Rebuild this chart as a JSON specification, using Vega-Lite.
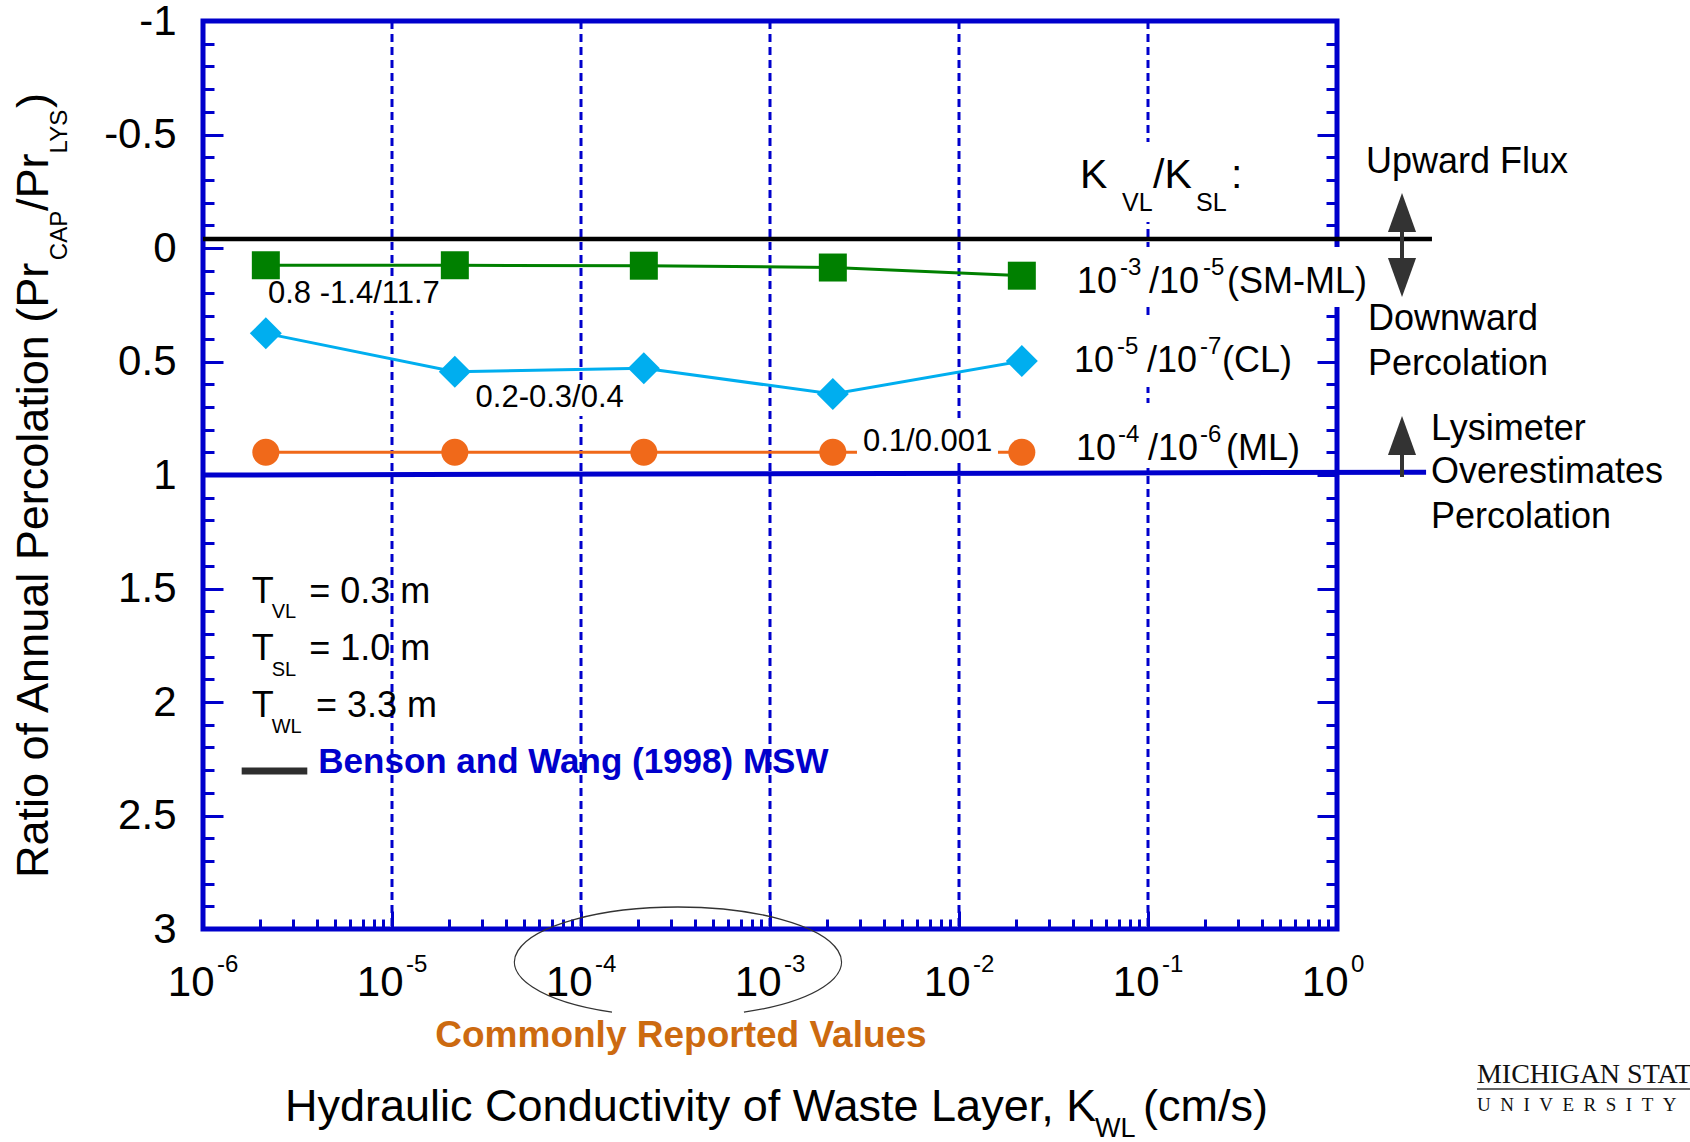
{
  "$schema": "https://vega.github.io/schema/vega-lite/v6.json",
  "width": 1134,
  "height": 908,
  "autosize": {"type": "none"},
  "padding": {"left": 203, "top": 21, "right": 353, "bottom": 213},
  "background": "white",
  "config": {"view": {"stroke": "#0000CC", "strokeWidth": 5}},
  "datasets": {
    "series": [
      {"x": 2.15e-6, "y": 0.076, "series": "SM-ML"},
      {"x": 2.15e-5, "y": 0.076, "series": "SM-ML"},
      {"x": 2.15e-4, "y": 0.078, "series": "SM-ML"},
      {"x": 2.15e-3, "y": 0.086, "series": "SM-ML"},
      {"x": 2.15e-2, "y": 0.122, "series": "SM-ML"},
      {"x": 2.15e-6, "y": 0.376, "series": "CL"},
      {"x": 2.15e-5, "y": 0.545, "series": "CL"},
      {"x": 2.15e-4, "y": 0.530, "series": "CL"},
      {"x": 2.15e-3, "y": 0.643, "series": "CL"},
      {"x": 2.15e-2, "y": 0.498, "series": "CL"},
      {"x": 2.15e-6, "y": 0.9, "series": "ML"},
      {"x": 2.15e-5, "y": 0.9, "series": "ML"},
      {"x": 2.15e-4, "y": 0.9, "series": "ML"},
      {"x": 2.15e-3, "y": 0.9, "series": "ML"},
      {"x": 2.15e-2, "y": 0.9, "series": "ML"}
    ],
    "grid": [
      {"x": 1e-5, "y": -1, "y2": 3},
      {"x": 1e-4, "y": -1, "y2": 3},
      {"x": 1e-3, "y": -1, "y2": 3},
      {"x": 1e-2, "y": -1, "y2": 3},
      {"x": 1e-1, "y": -1, "y2": 3}
    ],
    "refBlack": [{"x": 1e-6, "x2": 3.18, "y": -0.04}],
    "refBlue": [{"x": 1e-6, "x2": 2.96, "y": 1.0, "y2": 0.988}],
    "bg": [
      {"x": 2.886e-3, "x2": 0.01608, "y": 0.7489, "y2": 0.9471},
      {"x": 2.651e-5, "x2": 1.817e-4, "y": 0.5947, "y2": 0.7401},
      {"x": 2.102e-6, "x2": 2.027e-5, "y": 0.1366, "y2": 0.2775},
      {"x": 0.0411, "x2": 0.326, "y": -0.467, "y2": -0.1145},
      {"x": 0.03867, "x2": 1.532, "y": -0.0044, "y2": 0.26},
      {"x": 0.03773, "x2": 0.637, "y": 0.304, "y2": 0.6123},
      {"x": 0.03773, "x2": 0.6773, "y": 0.6828, "y2": 0.9692}
    ],
    "t36": [
      {"x": 1.4236, "y": -0.3304, "label": "Upward Flux"},
      {"x": 1.459, "y": 0.3612, "label": "Downward"},
      {"x": 1.459, "y": 0.5595, "label": "Percolation"},
      {"x": 3.144, "y": 0.8458, "label": "Lysimeter"},
      {"x": 3.144, "y": 1.0352, "label": "Overestimates"},
      {"x": 3.144, "y": 1.2335, "label": "Percolation"},
      {"x": 0.0421, "y": 0.1982, "label": "10"},
      {"x": 0.1012, "y": 0.1982, "label": "/10"},
      {"x": 0.2618, "y": 0.1982, "label": "(SM-ML)"},
      {"x": 0.04061, "y": 0.5463, "label": "10"},
      {"x": 0.09879, "y": 0.5463, "label": "/10"},
      {"x": 0.2462, "y": 0.5463, "label": "(CL)"},
      {"x": 0.04159, "y": 0.9339, "label": "10"},
      {"x": 0.1, "y": 0.9339, "label": "/10"},
      {"x": 0.2586, "y": 0.9339, "label": "(ML)"},
      {"x": 1.81e-6, "y": 1.5626, "label": "T"},
      {"x": 3.65e-6, "y": 1.5626, "label": "= 0.3 m"},
      {"x": 1.81e-6, "y": 1.815, "label": "T"},
      {"x": 3.65e-6, "y": 1.815, "label": "= 1.0 m"},
      {"x": 1.81e-6, "y": 2.0648, "label": "T"},
      {"x": 3.962e-6, "y": 2.0648, "label": "= 3.3 m"}
    ],
    "sup": [
      {"x": 0.0711, "y": 0.1189, "label": "-3"},
      {"x": 0.1954, "y": 0.1189, "label": "-5"},
      {"x": 0.06855, "y": 0.467, "label": "-5"},
      {"x": 0.1884, "y": 0.467, "label": "-7"},
      {"x": 0.0694, "y": 0.8546, "label": "-4"},
      {"x": 0.1884, "y": 0.8546, "label": "-6"}
    ],
    "xexp": [
      {"x": 1e-6, "y": 3.1894, "label": "-6"},
      {"x": 1e-5, "y": 3.1894, "label": "-5"},
      {"x": 1e-4, "y": 3.1894, "label": "-4"},
      {"x": 1e-3, "y": 3.1894, "label": "-3"},
      {"x": 1e-2, "y": 3.1894, "label": "-2"},
      {"x": 1e-1, "y": 3.1894, "label": "-1"},
      {"x": 1, "y": 3.1894, "label": "0"}
    ],
    "t41": [
      {"x": 0.04368, "y": -0.2643, "label": "K"},
      {"x": 0.1063, "y": -0.2643, "label": "/K"},
      {"x": 0.2749, "y": -0.2643, "label": ":"}
    ],
    "sub25": [
      {"x": 0.07285, "y": -0.163, "label": "VL"},
      {"x": 0.1795, "y": -0.163, "label": "SL"}
    ],
    "sub20": [
      {"x": 2.309e-6, "y": 1.6313, "label": "VL"},
      {"x": 2.309e-6, "y": 1.884, "label": "SL"},
      {"x": 2.309e-6, "y": 2.1379, "label": "WL"}
    ],
    "t31": [
      {"x": 2.208e-6, "y": 0.2423, "label": "0.8 -1.4/11.7"},
      {"x": 2.769e-5, "y": 0.7004, "label": "0.2-0.3/0.4"},
      {"x": 3.105e-3, "y": 0.893, "label": "0.1/0.001"}
    ],
    "xtitle": [
      {"x": 2.716e-6, "y": 3.846, "label": "Hydraulic Conductivity of Waste Layer, K"},
      {"x": 0.09408, "y": 3.846, "label": "(cm/s)"}
    ],
    "xtitleSub": [{"x": 0.05244, "y": 3.9163, "label": "WL"}],
    "ytitle": [
      {"x": 1.513e-7, "y": 2.7753, "label": "Ratio of Annual Percolation (Pr"},
      {"x": 1.513e-7, "y": -0.1634, "label": "/Pr"},
      {"x": 1.513e-7, "y": -0.6167, "label": ")"}
    ],
    "ytitleSub": [
      {"x": 1.907e-7, "y": 0.0537, "label": "CAP"},
      {"x": 1.907e-7, "y": -0.4167, "label": "LYS"}
    ],
    "benson": [{"x": 4.074e-6, "y": 2.314, "label": "Benson and Wang (1998) MSW"}],
    "bensonLine": [{"x": 1.602e-6, "x2": 3.563e-6, "y": 2.304}],
    "common": [{"x": 3.38e-4, "y": 3.5198, "label": "Commonly Reported Values"}],
    "ellipse": [{"x": 3.281e-4, "y": 3.1454}],
    "shafts": [
      {"x": 2.208, "y": -0.1454, "y2": 0.141},
      {"x": 2.208, "y": 0.8458, "y2": 1.0088}
    ],
    "headsUp": [
      {"x": 2.208, "y": -0.1564},
      {"x": 2.208, "y": 0.826}
    ],
    "headsDown": [{"x": 2.208, "y": 0.13}],
    "logo1": [{"x": 5.503, "y": 3.677, "label": "MICHIGAN STATE"}],
    "logo2": [{"x": 5.503, "y": 3.802, "label": "U\u00a0\u00a0N\u00a0\u00a0I\u00a0\u00a0V\u00a0\u00a0E\u00a0\u00a0R\u00a0\u00a0S\u00a0\u00a0I\u00a0\u00a0T\u00a0\u00a0Y"}],
    "logoLine": [{"x": 5.503, "x2": 73.74, "y": 3.705}]
  },
  "encoding": {
    "x": {"field": "x", "type": "quantitative", "scale": {"type": "log", "domain": [1e-6, 1]}, "axis": null},
    "y": {"field": "y", "type": "quantitative", "scale": {"domain": [-1, 3], "reverse": true}, "axis": null}
  },
  "resolve": {"axis": {"x": "independent", "y": "independent"}},
  "layer": [
    {
      "data": {"name": "grid"},
      "mark": {"type": "rule", "color": "#0000CC", "strokeWidth": 3, "strokeDash": [8, 5]},
      "encoding": {"y2": {"field": "y2"}}
    },
    {
      "data": {"name": "refBlack"},
      "mark": {"type": "rule", "color": "black", "strokeWidth": 4.5},
      "encoding": {"x2": {"field": "x2"}}
    },
    {
      "data": {"name": "refBlue"},
      "mark": {"type": "rule", "color": "#0000CC", "strokeWidth": 5},
      "encoding": {"x2": {"field": "x2"}, "y2": {"field": "y2"}}
    },
    {
      "data": {"name": "series"},
      "mark": {"type": "line", "strokeWidth": 3},
      "encoding": {
        "y": {
          "field": "y", "type": "quantitative",
          "scale": {"domain": [-1, 3], "reverse": true},
          "axis": {
            "orient": "left",
            "values": [-1,-0.9,-0.8,-0.7,-0.6,-0.5,-0.4,-0.3,-0.2,-0.1,0,0.1,0.2,0.3,0.4,0.5,0.6,0.7,0.8,0.9,1,1.1,1.2,1.3,1.4,1.5,1.6,1.7,1.8,1.9,2,2.1,2.2,2.3,2.4,2.5,2.6,2.7,2.8,2.9,3],
            "domain": false, "grid": false, "title": null,
            "tickColor": "#0000CC", "tickWidth": 3,
            "tickSize": {"condition": {"test": "abs(datum.value*2 - round(datum.value*2)) < 0.01", "value": -20}, "value": -11},
            "labelExpr": "abs(datum.value*2 - round(datum.value*2)) < 0.01 ? '' + round(datum.value*10)/10 : ''",
            "labelFont": "Liberation Sans", "labelFontSize": 42, "labelColor": "black",
            "labelPadding": 47, "labelFlush": false, "labelOverlap": false, "labelBound": false
          }
        },
        "color": {
          "field": "series", "type": "nominal",
          "scale": {"domain": ["SM-ML", "CL", "ML"], "range": ["#008000", "#00AEEF", "#F0691A"]},
          "legend": null
        }
      }
    },
    {
      "data": {"name": "bg"},
      "mark": {"type": "rect", "color": "white"},
      "encoding": {"x2": {"field": "x2"}, "y2": {"field": "y2"}}
    },
    {
      "data": {"name": "t36"},
      "mark": {"type": "text", "font": "Liberation Sans", "fontSize": 36, "align": "left", "baseline": "alphabetic", "color": "black"},
      "encoding": {"text": {"field": "label", "type": "nominal"}}
    },
    {
      "data": {"name": "sup"},
      "mark": {"type": "text", "font": "Liberation Sans", "fontSize": 24, "align": "left", "baseline": "alphabetic", "color": "black"},
      "encoding": {"text": {"field": "label", "type": "nominal"}}
    },
    {
      "data": {"name": "xexp"},
      "mark": {"type": "text", "font": "Liberation Sans", "fontSize": 24, "align": "left", "baseline": "alphabetic", "dx": 14, "color": "black"},
      "encoding": {"text": {"field": "label", "type": "nominal"}}
    },
    {
      "data": {"name": "t41"},
      "mark": {"type": "text", "font": "Liberation Sans", "fontSize": 41, "align": "left", "baseline": "alphabetic", "color": "black"},
      "encoding": {"text": {"field": "label", "type": "nominal"}}
    },
    {
      "data": {"name": "sub25"},
      "mark": {"type": "text", "font": "Liberation Sans", "fontSize": 25, "align": "left", "baseline": "alphabetic", "color": "black"},
      "encoding": {"text": {"field": "label", "type": "nominal"}}
    },
    {
      "data": {"name": "sub20"},
      "mark": {"type": "text", "font": "Liberation Sans", "fontSize": 20, "align": "left", "baseline": "alphabetic", "color": "black"},
      "encoding": {"text": {"field": "label", "type": "nominal"}}
    },
    {
      "data": {"name": "t31"},
      "mark": {"type": "text", "font": "Liberation Sans", "fontSize": 31, "align": "left", "baseline": "alphabetic", "color": "black"},
      "encoding": {"text": {"field": "label", "type": "nominal"}}
    },
    {
      "data": {"name": "xtitle"},
      "mark": {"type": "text", "font": "Liberation Sans", "fontSize": 45, "align": "left", "baseline": "alphabetic", "color": "black"},
      "encoding": {"text": {"field": "label", "type": "nominal"}}
    },
    {
      "data": {"name": "xtitleSub"},
      "mark": {"type": "text", "font": "Liberation Sans", "fontSize": 27, "align": "left", "baseline": "alphabetic", "color": "black"},
      "encoding": {"text": {"field": "label", "type": "nominal"}}
    },
    {
      "data": {"name": "ytitle"},
      "mark": {"type": "text", "font": "Liberation Sans", "fontSize": 45, "align": "left", "baseline": "alphabetic", "angle": 270, "color": "black"},
      "encoding": {"text": {"field": "label", "type": "nominal"}}
    },
    {
      "data": {"name": "ytitleSub"},
      "mark": {"type": "text", "font": "Liberation Sans", "fontSize": 24, "align": "left", "baseline": "alphabetic", "angle": 270, "color": "black"},
      "encoding": {"text": {"field": "label", "type": "nominal"}}
    },
    {
      "data": {"name": "benson"},
      "mark": {"type": "text", "font": "Liberation Sans", "fontSize": 35, "fontWeight": "bold", "align": "left", "baseline": "alphabetic", "color": "#0000CC"},
      "encoding": {"text": {"field": "label", "type": "nominal"}}
    },
    {
      "data": {"name": "bensonLine"},
      "mark": {"type": "rule", "color": "#2e2e2e", "strokeWidth": 7},
      "encoding": {"x2": {"field": "x2"}}
    },
    {
      "data": {"name": "common"},
      "mark": {"type": "text", "font": "Liberation Sans", "fontSize": 37, "fontWeight": "bold", "align": "center", "baseline": "alphabetic", "color": "#CC6A10"},
      "encoding": {"text": {"field": "label", "type": "nominal"}}
    },
    {
      "data": {"name": "ellipse"},
      "mark": {"type": "point", "shape": "M-0.407,0.307A1,0.336,0,1,1,0.4,0.307", "size": 106929, "filled": false, "color": "#333333", "strokeWidth": 1.3, "opacity": 1}
    },
    {
      "data": {"name": "series"},
      "transform": [{"filter": "datum.series === 'SM-ML'"}],
      "mark": {"type": "point", "shape": "square", "size": 784, "filled": true, "color": "#008000", "opacity": 1},
      "encoding": {
        "x": {
          "field": "x", "type": "quantitative",
          "scale": {"type": "log", "domain": [1e-6, 1]},
          "axis": {
            "orient": "bottom",
            "values": [1e-6,2e-6,3e-6,4e-6,5e-6,6e-6,7e-6,8e-6,9e-6,1e-5,2e-5,3e-5,4e-5,5e-5,6e-5,7e-5,8e-5,9e-5,1e-4,2e-4,3e-4,4e-4,5e-4,6e-4,7e-4,8e-4,9e-4,0.001,0.002,0.003,0.004,0.005,0.006,0.007,0.008,0.009,0.01,0.02,0.03,0.04,0.05,0.06,0.07,0.08,0.09,0.1,0.2,0.3,0.4,0.5,0.6,0.7,0.8,0.9,1],
            "domain": false, "grid": false, "title": null,
            "tickColor": "#0000CC", "tickWidth": 3,
            "tickSize": {"condition": {"test": "abs(log(datum.value)/LN10 - round(log(datum.value)/LN10)) < 0.01", "value": -18}, "value": -10},
            "labelExpr": "abs(log(datum.value)/LN10 - round(log(datum.value)/LN10)) < 0.01 ? '10' : ''",
            "labelFont": "Liberation Sans", "labelFontSize": 42, "labelColor": "black",
            "labelAlign": "right", "labelBaseline": "alphabetic", "labelOffset": 11,
            "labelPadding": 84, "labelFlush": false, "labelOverlap": false, "labelBound": false
          }
        }
      }
    },
    {
      "data": {"name": "series"},
      "transform": [{"filter": "datum.series === 'CL'"}],
      "mark": {"type": "point", "shape": "diamond", "size": 1024, "filled": true, "color": "#00AEEF", "opacity": 1},
      "encoding": {
        "y": {
          "field": "y", "type": "quantitative",
          "scale": {"domain": [-1, 3], "reverse": true},
          "axis": {
            "orient": "right",
            "values": [-1,-0.9,-0.8,-0.7,-0.6,-0.5,-0.4,-0.3,-0.2,-0.1,0,0.1,0.2,0.3,0.4,0.5,0.6,0.7,0.8,0.9,1,1.1,1.2,1.3,1.4,1.5,1.6,1.7,1.8,1.9,2,2.1,2.2,2.3,2.4,2.5,2.6,2.7,2.8,2.9,3],
            "domain": false, "grid": false, "title": null, "labels": false,
            "tickColor": "#0000CC", "tickWidth": 3,
            "tickSize": {"condition": {"test": "abs(datum.value*2 - round(datum.value*2)) < 0.01", "value": -20}, "value": -11}
          }
        }
      }
    },
    {
      "data": {"name": "series"},
      "transform": [{"filter": "datum.series === 'ML'"}],
      "mark": {"type": "point", "shape": "circle", "size": 729, "filled": true, "color": "#F0691A", "opacity": 1}
    },
    {
      "data": {"name": "shafts"},
      "mark": {"type": "rule", "color": "#333333", "strokeWidth": 4},
      "encoding": {"y2": {"field": "y2"}}
    },
    {
      "data": {"name": "headsUp"},
      "mark": {"type": "point", "shape": "M0,-1L0.72,1L-0.72,1Z", "size": 1521, "filled": true, "color": "#333333", "opacity": 1}
    },
    {
      "data": {"name": "headsDown"},
      "mark": {"type": "point", "shape": "M0,1L0.72,-1L-0.72,-1Z", "size": 1521, "filled": true, "color": "#333333", "opacity": 1}
    },
    {
      "data": {"name": "logo1"},
      "mark": {"type": "text", "font": "Liberation Serif", "fontSize": 28, "align": "left", "baseline": "alphabetic", "color": "#111111"},
      "encoding": {"text": {"field": "label", "type": "nominal"}}
    },
    {
      "data": {"name": "logo2"},
      "mark": {"type": "text", "font": "Liberation Serif", "fontSize": 19, "align": "left", "baseline": "alphabetic", "color": "#111111"},
      "encoding": {"text": {"field": "label", "type": "nominal"}}
    },
    {
      "data": {"name": "logoLine"},
      "mark": {"type": "rule", "color": "#666666", "strokeWidth": 2},
      "encoding": {"x2": {"field": "x2"}}
    }
  ]
}
